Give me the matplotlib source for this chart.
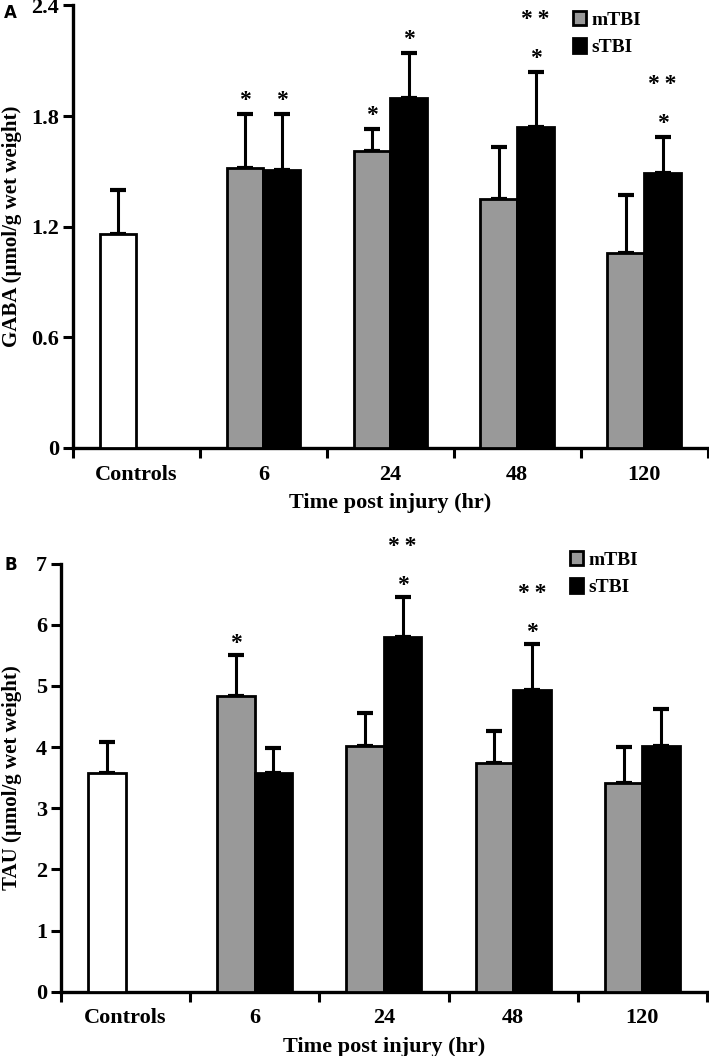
import matplotlib
matplotlib.use('Agg')
import matplotlib.pyplot as plt
from matplotlib.patches import Patch

plt.rcParams['font.family'] = ['Liberation Serif', 'DejaVu Serif']
plt.rcParams['font.weight'] = 'bold'
plt.rcParams['axes.labelweight'] = 'bold'

groups = ['Controls', '6', '24', '48', '120']

# GABA (panel A)
gaba_ctrl = 1.16
gaba_ctrl_err = 0.24
gaba_m = [1.52, 1.61, 1.35, 1.06]
gaba_m_err = [0.29, 0.12, 0.28, 0.31]
gaba_s = [1.51, 1.90, 1.74, 1.49]
gaba_s_err = [0.30, 0.24, 0.30, 0.195]
gaba_m_sig = [1, 1, 0, 0]   # 1 = '*', 2 = '*' plus '**'
gaba_s_sig = [1, 1, 2, 2]

# TAU (panel B)
tau_ctrl = 3.58
tau_ctrl_err = 0.51
tau_m = [4.83, 4.02, 3.74, 3.41]
tau_m_err = [0.68, 0.53, 0.53, 0.59]
tau_s = [3.58, 5.80, 4.93, 4.02]
tau_s_err = [0.40, 0.66, 0.76, 0.60]
tau_m_sig = [1, 0, 0, 0]
tau_s_sig = [0, 2, 2, 0]

GREY = '#999999'
W = 0.29


def bar_with_err(ax, x, val, err, color):
    ax.bar(x, val, W, color=color, edgecolor='black', linewidth=2, zorder=3)
    ax.errorbar(x, val, yerr=[[0], [err]], fmt='none', ecolor='black',
                elinewidth=2.2, capsize=6, capthick=3, zorder=2)


def stars(ax, x, top, level, off):
    if level >= 1:
        ax.annotate('*', xy=(x, top), xytext=(0, off), textcoords='offset points',
                    ha='center', va='baseline', fontsize=17)
    if level >= 2:
        ax.annotate('*\u2009*', xy=(x, top), xytext=(0, off + 28), textcoords='offset points',
                    ha='center', va='baseline', fontsize=17)


def draw_panel(ax, ctrl, ctrl_err, m, m_err, s, s_err, m_sig, s_sig,
               ymax, yticks, ylabel, tick_fmt, star_off, leg_y):
    bar_with_err(ax, 0 - W / 2, ctrl, ctrl_err, 'white')
    for i in range(4):
        xm = i + 1 - W / 2
        xs = i + 1 + W / 2
        bar_with_err(ax, xm, m[i], m_err[i], GREY)
        bar_with_err(ax, xs, s[i], s_err[i], 'black')
        stars(ax, xm, m[i] + m_err[i], m_sig[i], star_off)
        stars(ax, xs, s[i] + s_err[i], s_sig[i], star_off)

    ax.set_xlim(-0.5, 4.5)
    ax.set_ylim(0, ymax)
    ax.set_yticks(yticks)
    ax.set_yticklabels([tick_fmt(v) for v in yticks])
    ax.set_xticks(range(5))
    ax.set_xticklabels(groups)
    ax.set_xticks([i - 0.5 for i in range(6)], minor=True)
    ax.tick_params(axis='x', which='major', length=0, pad=12, labelsize=16)
    ax.tick_params(axis='x', which='minor', length=7, width=2.2, direction='out')
    ax.tick_params(axis='y', length=7, width=2.2, direction='out', labelsize=16, pad=3)
    for side in ['top', 'right']:
        ax.spines[side].set_visible(False)
    for side in ['left', 'bottom']:
        ax.spines[side].set_linewidth(2.4)
    ax.set_xlabel('Time post injury (hr)', fontsize=16, labelpad=6)
    ax.set_ylabel(ylabel, fontsize=15)

    handles = [Patch(facecolor=GREY, edgecolor='black', linewidth=2, label='mTBI'),
               Patch(facecolor='black', edgecolor='black', linewidth=2, label='sTBI')]
    ax.legend(handles=handles, loc='upper left', bbox_to_anchor=(0.788, leg_y),
              frameon=False, fontsize=14, handlelength=0.65, handleheight=0.75,
              handletextpad=0.3, labelspacing=0.5, borderpad=0, borderaxespad=0)


fig = plt.figure(figsize=(7.09, 10.56), dpi=100)
ax_a = fig.add_axes([0.103, 0.5758, 0.895, 0.419])
ax_b = fig.add_axes([0.086, 0.0609, 0.911, 0.4053])

draw_panel(ax_a, gaba_ctrl, gaba_ctrl_err, gaba_m, gaba_m_err, gaba_s, gaba_s_err,
           gaba_m_sig, gaba_s_sig, 2.4, [0, 0.6, 1.2, 1.8, 2.4],
           'GABA (\u00b5mol/g wet weight)', lambda v: '0' if v == 0 else f'{v:.1f}',
           6, 0.988)
draw_panel(ax_b, tau_ctrl, tau_ctrl_err, tau_m, tau_m_err, tau_s, tau_s_err,
           tau_m_sig, tau_s_sig, 7, list(range(8)),
           'TAU (\u00b5mol/g wet weight)', lambda v: f'{v:d}',
           4, 1.03)

ax_a.yaxis.set_label_coords(-0.080, 0.5)
ax_b.yaxis.set_label_coords(-0.060, 0.5)

fig.text(0.006, 0.988, 'A', fontsize=12, fontweight='bold', family='DejaVu Sans', va='center')
fig.text(0.006, 0.465, 'B', fontsize=12, fontweight='bold', family='DejaVu Sans', va='center')

fig.savefig('out.png', dpi=100)
